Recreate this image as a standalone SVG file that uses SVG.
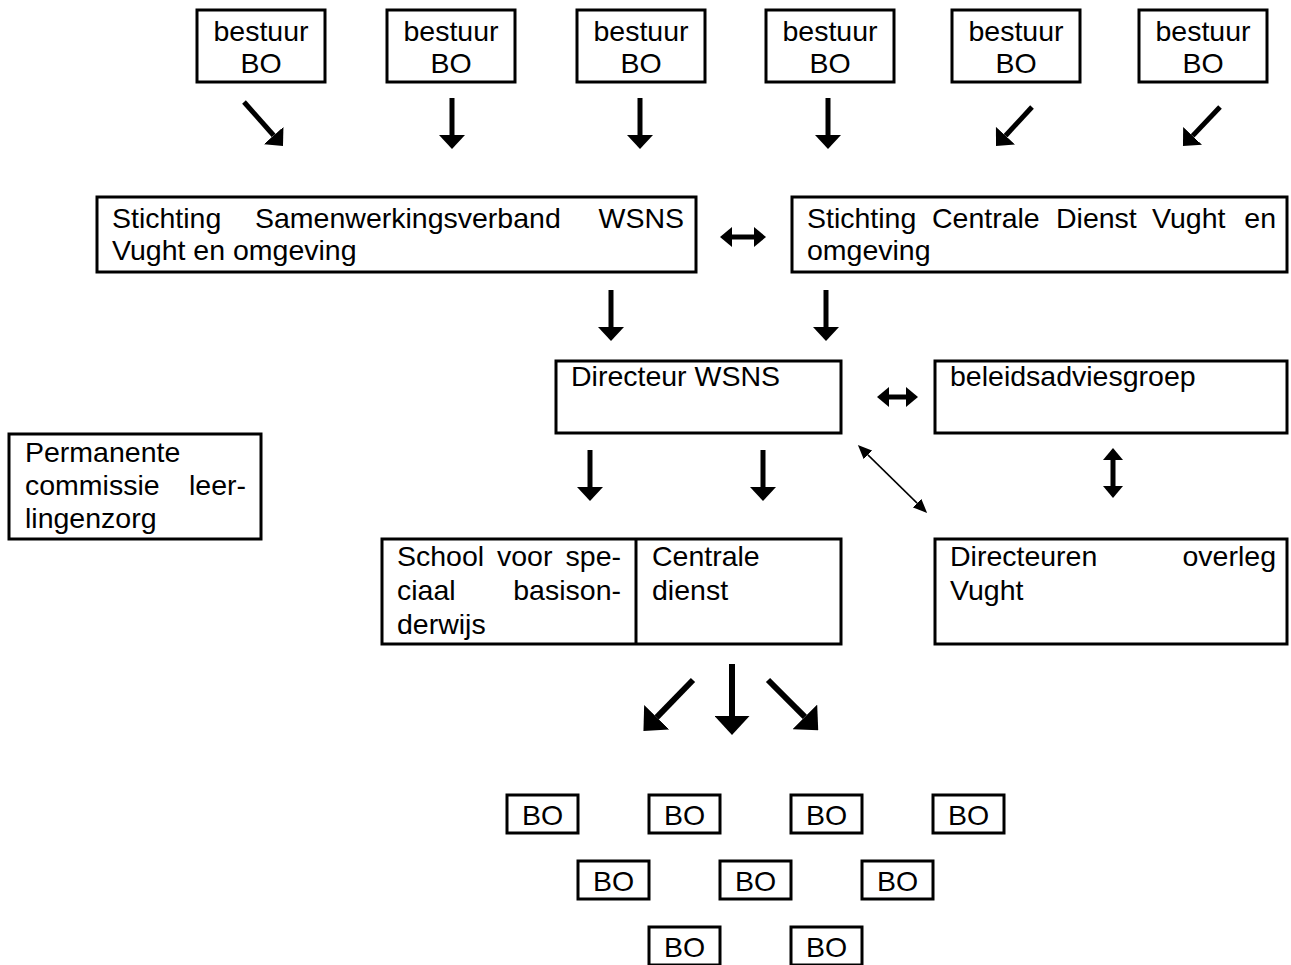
<svg xmlns="http://www.w3.org/2000/svg" width="1291" height="965" viewBox="0 0 1291 965">
<style>
.box{fill:none;stroke:#000;stroke-width:3}
text{font-family:"Liberation Sans",Arial,sans-serif;font-size:28.5px;fill:#000}
.c{text-anchor:middle}
.e{text-anchor:end}
.a{stroke:#000;stroke-width:5;fill:none}
.a2{stroke:#000;stroke-width:6;fill:none}
.t{stroke:#000;stroke-width:1.5;fill:none}
</style>
<defs>
<marker id="big" viewBox="0 -13 14 26" refX="0" refY="0" markerWidth="14" markerHeight="26" markerUnits="userSpaceOnUse" orient="auto"><path d="M0,-13L14,0L0,13Z"/></marker>
<marker id="huge" viewBox="0 -17.5 19 35" refX="0" refY="0" markerWidth="19" markerHeight="35" markerUnits="userSpaceOnUse" orient="auto"><path d="M0,-17.5L19,0L0,17.5Z"/></marker>
<marker id="mid" viewBox="0 -10 12 20" refX="0" refY="0" markerWidth="12" markerHeight="20" markerUnits="userSpaceOnUse" orient="auto-start-reverse"><path d="M0,-10L12,0L0,10Z"/></marker>
<marker id="thin" viewBox="0 -6 14 12" refX="0" refY="0" markerWidth="14" markerHeight="12" markerUnits="userSpaceOnUse" orient="auto-start-reverse"><path d="M0,-6L14,0L0,6Z"/></marker>
</defs>

<g id="bestuur1"><rect class="box" x="197" y="10" width="128" height="72"/><text class="c" x="261" y="41">bestuur</text><text class="c" x="261" y="73">BO</text></g>
<g id="bestuur2"><rect class="box" x="387" y="10" width="128" height="72"/><text class="c" x="451" y="41">bestuur</text><text class="c" x="451" y="73">BO</text></g>
<g id="bestuur3"><rect class="box" x="577" y="10" width="128" height="72"/><text class="c" x="641" y="41">bestuur</text><text class="c" x="641" y="73">BO</text></g>
<g id="bestuur4"><rect class="box" x="766" y="10" width="128" height="72"/><text class="c" x="830" y="41">bestuur</text><text class="c" x="830" y="73">BO</text></g>
<g id="bestuur5"><rect class="box" x="952" y="10" width="128" height="72"/><text class="c" x="1016" y="41">bestuur</text><text class="c" x="1016" y="73">BO</text></g>
<g id="bestuur6"><rect class="box" x="1139" y="10" width="128" height="72"/><text class="c" x="1203" y="41">bestuur</text><text class="c" x="1203" y="73">BO</text></g>

<g id="stichting-wsns"><rect class="box" x="97" y="197" width="599" height="75"/>
<text x="112" y="228">Stichting</text><text x="255" y="228">Samenwerkingsverband</text><text class="e" x="684" y="228">WSNS</text>
<text x="112" y="260">Vught en omgeving</text></g>

<g id="stichting-cd"><rect class="box" x="792" y="197" width="495" height="75"/>
<text x="807" y="228">Stichting</text><text x="932" y="228">Centrale</text><text x="1056" y="228">Dienst</text><text x="1152" y="228">Vught</text><text class="e" x="1276" y="228">en</text>
<text x="807" y="260">omgeving</text></g>

<g id="directeur"><rect class="box" x="556" y="361" width="285" height="72"/><text x="571" y="386">Directeur WSNS</text></g>
<g id="beleidsadviesgroep"><rect class="box" x="935" y="361" width="352" height="72"/><text x="950" y="386">beleidsadviesgroep</text></g>

<g id="permanente"><rect class="box" x="9" y="434" width="252" height="105"/>
<text x="25" y="462">Permanente</text><text x="25" y="495">commissie</text><text class="e" x="246" y="495">leer-</text><text x="25" y="528">lingenzorg</text></g>

<g id="school"><rect class="box" x="382" y="539" width="459" height="105"/><line class="box" x1="636" y1="539" x2="636" y2="644"/>
<text x="397" y="566">School</text><text x="497" y="566">voor</text><text class="e" x="621" y="566">spe-</text>
<text x="397" y="600">ciaal</text><text class="e" x="621" y="600">basison-</text>
<text x="397" y="634">derwijs</text>
<text x="652" y="566">Centrale</text><text x="652" y="600">dienst</text></g>

<g id="directeurenoverleg"><rect class="box" x="935" y="539" width="352" height="105"/>
<text x="950" y="566">Directeuren</text><text class="e" x="1276" y="566">overleg</text><text x="950" y="600">Vught</text></g>

<g id="bo1"><rect class="box" x="507" y="795" width="71" height="38"/><text class="c" x="542.5" y="825">BO</text></g>
<g id="bo2"><rect class="box" x="649" y="795" width="71" height="38"/><text class="c" x="684.5" y="825">BO</text></g>
<g id="bo3"><rect class="box" x="791" y="795" width="71" height="38"/><text class="c" x="826.5" y="825">BO</text></g>
<g id="bo4"><rect class="box" x="933" y="795" width="71" height="38"/><text class="c" x="968.5" y="825">BO</text></g>
<g id="bo5"><rect class="box" x="578" y="861" width="71" height="38"/><text class="c" x="613.5" y="891">BO</text></g>
<g id="bo6"><rect class="box" x="720" y="861" width="71" height="38"/><text class="c" x="755.5" y="891">BO</text></g>
<g id="bo7"><rect class="box" x="862" y="861" width="71" height="38"/><text class="c" x="897.5" y="891">BO</text></g>
<g id="bo8"><rect class="box" x="649" y="927" width="71" height="38"/><text class="c" x="684.5" y="957">BO</text></g>
<g id="bo9"><rect class="box" x="791" y="927" width="71" height="38"/><text class="c" x="826.5" y="957">BO</text></g>

<g id="connectors">
<line class="a" x1="244" y1="102" x2="273.7" y2="135.5" marker-end="url(#big)"/>
<line class="a" x1="452" y1="98" x2="452" y2="135" marker-end="url(#big)"/>
<line class="a" x1="640" y1="98" x2="640" y2="135" marker-end="url(#big)"/>
<line class="a" x1="828" y1="98" x2="828" y2="135" marker-end="url(#big)"/>
<line class="a" x1="1032" y1="107" x2="1005.5" y2="135.7" marker-end="url(#big)"/>
<line class="a" x1="1220" y1="107" x2="1192.6" y2="135.9" marker-end="url(#big)"/>
<line class="a" x1="732" y1="237" x2="754" y2="237" marker-start="url(#mid)" marker-end="url(#mid)"/>
<line class="a" x1="611" y1="290" x2="611" y2="327" marker-end="url(#big)"/>
<line class="a" x1="826" y1="290" x2="826" y2="327" marker-end="url(#big)"/>
<line class="a" x1="889" y1="397" x2="906" y2="397" marker-start="url(#mid)" marker-end="url(#mid)"/>
<line class="a" x1="590" y1="450" x2="590" y2="487" marker-end="url(#big)"/>
<line class="a" x1="763" y1="450" x2="763" y2="487" marker-end="url(#big)"/>
<line class="t" x1="867.9" y1="454.9" x2="917.1" y2="503.1" marker-start="url(#thin)" marker-end="url(#thin)"/>
<line class="a" x1="1113" y1="460" x2="1113" y2="486" marker-start="url(#mid)" marker-end="url(#mid)"/>
<line class="a2" x1="693" y1="680" x2="656.7" y2="717.3" marker-end="url(#huge)"/>
<line class="a2" x1="732" y1="664" x2="732" y2="716" marker-end="url(#huge)"/>
<line class="a2" x1="768" y1="680" x2="804.8" y2="716.9" marker-end="url(#huge)"/>
</g>
</svg>
